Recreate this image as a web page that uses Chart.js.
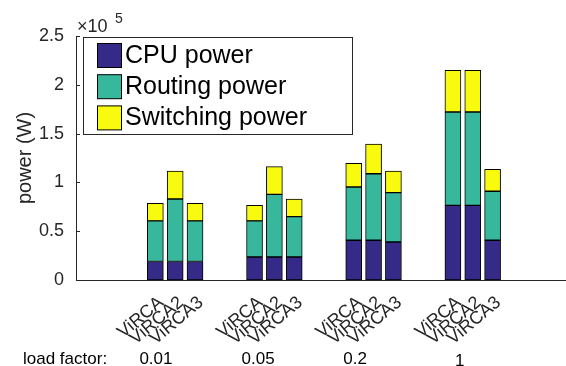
<!DOCTYPE html>
<html>
<head>
<meta charset="utf-8">
<script src="https://cdn.jsdelivr.net/npm/chart.js@4/dist/chart.umd.min.js"></script>
<style>
  html, body { margin: 0; padding: 0; background: #fff; }
  #wrap { width: 566px; height: 366px; }
</style>
</head>
<body>
<div id="wrap"><canvas id="powerChart" width="566" height="366"></canvas></div>
<script>
// ---- data (watts) ----
const variants = ['ViRCA', 'ViRCA2', 'ViRCA3'];
const loadFactors = ['0.01', '0.05', '0.2', '1'];
const cpuPower = [19000, 19000, 19000, 23600, 23600, 23600, 40700, 40700, 38900, 76500, 76500, 40700];
const routingPower = [41500, 64000, 41500, 36900, 64200, 41300, 54600, 68200, 50600, 95600, 95600, 50200];
const switchingPower = [18100, 28700, 18100, 16000, 28300, 18100, 24300, 30400, 22200, 42700, 42700, 22500];
const yTicks = [0, 50000, 100000, 150000, 200000, 250000];

// ---- layout (axis units) ----
const groupStart = [4, 9, 14, 19];              // x of first bar in each group
const loadLabelX = [4.03, 9.18, 14.07, 19.34];  // where the load factor text sits
const labelShift = 0.3;                         // rotated names sit a bit right of the bar
const TXT = '#262626';
const FONT = "'Liberation Sans', Arial, sans-serif";

const xPos = [];
groupStart.forEach(g => variants.forEach((_, i) => xPos.push(g + i)));

const pts = arr => arr.map((v, k) => ({ x: xPos[k], y: v }));

// legend box, x10^5 marker, inward ticks, load factor row
const extras = {
  id: 'extras',
  afterDraw(chart) {
    const c = chart.ctx;
    const xs = chart.scales.x, ys = chart.scales.y;
    const left = chart.chartArea.left;
    c.save();

    // inward y ticks
    c.strokeStyle = TXT;
    c.lineWidth = 1;
    yTicks.forEach(v => {
      const y = Math.round(ys.getPixelForValue(v)) + 0.5;
      c.beginPath(); c.moveTo(left, y); c.lineTo(left + 4, y); c.stroke();
    });

    // exponent marker
    c.fillStyle = TXT;
    c.textBaseline = 'alphabetic';
    c.textAlign = 'left';
    c.font = '18px ' + FONT;
    c.fillText('\u00d710', 77, 32);
    c.font = '14px ' + FONT;
    c.fillText('5', 115, 23);

    // legend
    c.fillStyle = '#fff';
    c.fillRect(83.5, 37.5, 269, 97);
    c.strokeStyle = '#262626';
    c.strokeRect(83.5, 37.5, 269, 97);
    chart.data.datasets.forEach((ds, i) => {
      const top = 43 + i * 31.2;
      c.fillStyle = ds.backgroundColor;
      c.fillRect(97.5, top + 0.5, 24, 24);
      c.strokeStyle = '#000';
      c.strokeRect(97.5, top + 0.5, 24, 24);
      c.fillStyle = '#000';
      c.font = '25px ' + FONT;
      c.textBaseline = 'middle';
      c.fillText(ds.label, 125, top + 13);
    });

    // load factor row
    c.font = '17px ' + FONT;
    c.fillStyle = '#000';
    c.textBaseline = 'alphabetic';
    c.textAlign = 'left';
    c.fillText('load factor:', 23, 364);
    c.textAlign = 'center';
    loadFactors.forEach((t, i) => {
      c.fillText(t, xs.getPixelForValue(loadLabelX[i]), t === '1' ? 365.5 : 364);
    });
    c.restore();
  }
};

new Chart(document.getElementById('powerChart'), {
  type: 'bar',
  data: {
    datasets: [
      { label: 'CPU power', data: pts(cpuPower), backgroundColor: '#352a87' },
      { label: 'Routing power', data: pts(routingPower), backgroundColor: '#37b89d' },
      { label: 'Switching power', data: pts(switchingPower), backgroundColor: '#f9fb0e' }
    ]
  },
  options: {
    responsive: false,
    animation: false,
    devicePixelRatio: 1,
    layout: { padding: { top: 36, left: 0, right: 0, bottom: 0 } },
    datasets: {
      bar: { barThickness: 16, borderColor: '#000', borderWidth: 1, borderSkipped: false }
    },
    plugins: { legend: { display: false }, tooltip: { enabled: false } },
    scales: {
      x: {
        type: 'linear',
        stacked: true,
        offset: false,
        min: 0,
        max: 24.7,
        grid: { display: false },
        border: { display: true, color: '#262626', width: 1 },
        afterBuildTicks: s => { s.ticks = xPos.map(v => ({ value: v + labelShift })); },
        afterFit: s => { s.height = 86; s.paddingLeft = 0; s.paddingRight = 0; },
        ticks: {
          autoSkip: false,
          minRotation: 40,
          maxRotation: 40,
          padding: 4,
          color: TXT,
          font: { size: 18, family: FONT },
          callback: (v, i) => variants[i % variants.length]
        }
      },
      y: {
        stacked: true,
        min: 0,
        max: 250000,
        afterBuildTicks: s => { s.ticks = yTicks.map(v => ({ value: v })); },
        afterFit: s => { s.width = 76; },
        grid: { display: false, drawTicks: false },
        border: { display: true, color: '#262626', width: 1 },
        ticks: {
          padding: 12,
          color: TXT,
          font: { size: 18, family: FONT },
          callback: v => String(v / 100000)
        },
        title: {
          display: true,
          text: 'power (W)',
          color: TXT,
          font: { size: 20, family: FONT },
          padding: { top: 13, bottom: 0 }
        }
      }
    }
  },
  plugins: [extras]
});
</script>
</body>
</html>
